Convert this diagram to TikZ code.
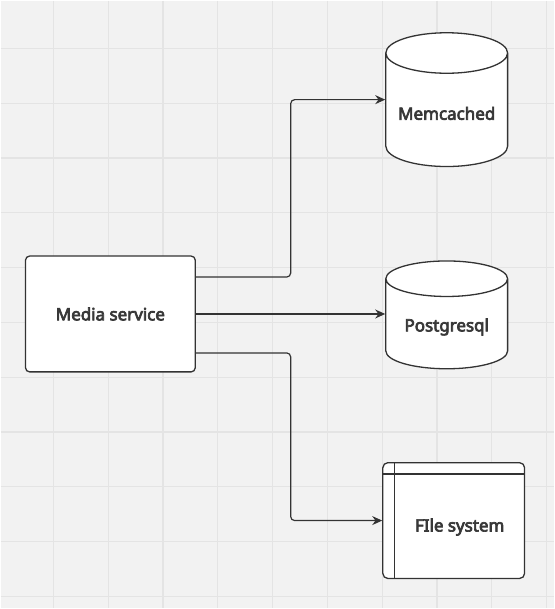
\documentclass[tikz,border=0pt]{standalone}
\usepackage{fontspec}
\setmainfont{Noto Sans}[AutoFakeBold=4]
\usetikzlibrary{shapes.geometric}
\usetikzlibrary{arrows.meta}

\definecolor{boardbg}{HTML}{F2F2F2}
\definecolor{boardgrid}{HTML}{E4E4E4}
\definecolor{inkline}{HTML}{333333}
\definecolor{inktext}{HTML}{383838}

\begin{document}
\begin{tikzpicture}[x=1pt,y=-1pt]
	\tikzstyle{service} =
	[draw = inkline,
	fill = white,
	line width = 1.3pt,
	rounded corners = 4pt,
	minimum width = 170pt,
	minimum height = 116pt,
	text = inktext,
	font = \fontsize{17}{20}\selectfont\bfseries
	]
	\tikzstyle{store} =
	[cylinder,
	shape border rotate = 90,
	aspect = 0.39,
	draw = inkline,
	fill = white,
	line width = 1.3pt,
	minimum width = 122pt,
	text = inktext,
	font = \fontsize{17}{20}\selectfont\bfseries
	]
	\tikzstyle{filebox} =
	[draw = inkline,
	fill = white,
	line width = 1.3pt,
	rounded corners = 5pt,
	minimum width = 142pt,
	minimum height = 116pt
	]
	\tikzstyle{link} =
	[draw = inkline,
	line width = 1.2pt,
	rounded corners = 4pt,
	-{Stealth[length=10pt, width=9pt]}
	]

	% board
	\fill[boardbg] (0,0) rectangle (554,609);
	\foreach \gx in {0,...,9}
		\draw[boardgrid, line width=1.2pt] ({53+54.9*\gx},0) -- ({53+54.9*\gx},609);
	\foreach \gy in {0,...,10}
		\draw[boardgrid, line width=1.2pt] (0,{48+54.9*\gy}) -- (554,{48+54.9*\gy});

	\node[service] (ms) at (110,314) {Media service};
	\node[store, minimum height=134pt] (memc) at (447,113) {Memcached};
	\node[store, minimum height=108pt] (pg) at (447,327) {Postgresql};
	\node[filebox,
		label={[xshift=6pt, yshift=-6.5pt, text=inktext,
			font=\fontsize{17}{20}\selectfont\bfseries]center:FIle system}]
		(fs) at (454,521) {};
	\draw[inkline, line width=1.3pt]
		([xshift=12pt]fs.north west) -- ([xshift=12pt]fs.south west)
		([yshift=-12pt]fs.north west) -- ([yshift=-12pt]fs.north east);

	\draw[link] ([yshift=37pt]ms.east) -- ++(95,0) |- (memc.west |- memc.shape center);
	\draw[link] (ms.east) -- (ms.east -| pg.west);
	\draw[link] ([yshift=-39pt]ms.east) -- ++(95,0) |- (fs.west);
\end{tikzpicture}
\end{document}
